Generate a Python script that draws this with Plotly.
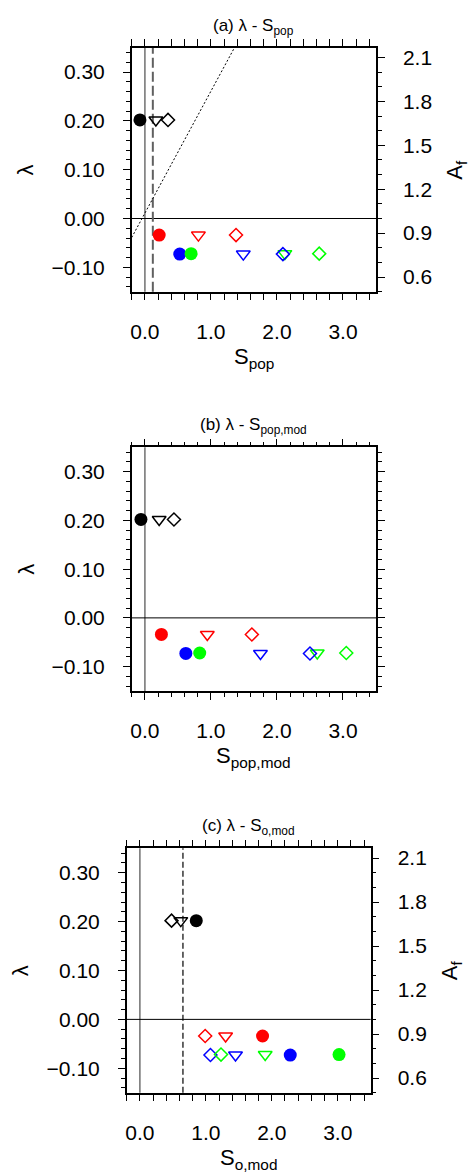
import plotly.graph_objects as go

# ---------------- data ----------------
COLORS = ["black", "#ff0000", "#0000ff", "#00ff00"]
LAMBDA = [0.202, -0.034, -0.073, -0.072]

# panel (a): S_pop
A_CIRCLE = [-0.075, 0.216, 0.528, 0.70]
A_TRIANGLE = [0.166, 0.81, 1.49, 2.12]
A_DIAMOND = [0.35, 1.38, 2.09, 2.64]

# panel (b): S_pop,mod
B_CIRCLE = [-0.06, 0.25, 0.62, 0.83]
B_TRIANGLE = [0.216, 0.945, 1.75, 2.61]
B_DIAMOND = [0.44, 1.62, 2.50, 3.05]

# panel (c): S_o,mod
C_CIRCLE = [0.855, 1.86, 2.28, 3.02]
C_TRIANGLE = [0.62, 1.30, 1.45, 1.90]
C_DIAMOND = [0.48, 0.99, 1.07, 1.23]

S_TICKS = [0.0, 1.0, 2.0, 3.0]
LAMBDA_TICKS = [-0.10, 0.00, 0.10, 0.20, 0.30]
AF_TICKS = [0.6, 0.9, 1.2, 1.5, 1.8, 2.1]
S_RANGE = [-0.2, 3.5]
LAMBDA_RANGE = [-0.15, 0.35]
AF_PER_LAMBDA = 0.3          # Af = 1 + lambda / 0.3
DASHED_A = 0.12              # vertical dashed line, panel (a)
DASHED_C = 0.653             # vertical dashed line, panel (c)
DOTTED_SLOPE = 0.25          # dotted line, panel (a): lambda = slope*S + intercept
DOTTED_INTERCEPT = 0.011

TITLES = ["(a) λ - S<sub>pop</sub>", "(b) λ - S<sub>pop,mod</sub>", "(c) λ - S<sub>o,mod</sub>"]
XTITLES = ["S<sub>pop</sub>", "S<sub>pop,mod</sub>", "S<sub>o,mod</sub>"]

# ---------------- layout geometry (pixels) ----------------
W, H = 471, 1176
PANELS = [  # (x0, x1, ytop, ybottom)
    (131.7, 376.0, 47.7, 291.7),
    (131.7, 376.0, 447.3, 691.0),
    (126.7, 370.7, 848.3, 1092.7),
]
FONT = "Liberation Sans, Arial, Helvetica, sans-serif"


def px_x(v):
    return v / W


def px_y(v):
    return 1 - v / H


AF_RANGE = [1 + LAMBDA_RANGE[0] / AF_PER_LAMBDA, 1 + LAMBDA_RANGE[1] / AF_PER_LAMBDA]

fig = go.Figure()

axis_ids = [("x", "y", "y2"), ("x2", "y3", None), ("x3", "y4", "y5")]
series = [
    (A_CIRCLE, A_TRIANGLE, A_DIAMOND),
    (B_CIRCLE, B_TRIANGLE, B_DIAMOND),
    (C_CIRCLE, C_TRIANGLE, C_DIAMOND),
]

for (xa, ya, yaf), (circ, tri, dia) in zip(axis_ids, series):
    fig.add_trace(go.Scatter(x=circ, y=LAMBDA, mode="markers", xaxis=xa, yaxis=ya,
                             marker=dict(symbol="circle", size=13, color=COLORS, line=dict(width=0)),
                             showlegend=False, hoverinfo="skip"))
    fig.add_trace(go.Scatter(x=tri, y=LAMBDA, mode="markers", xaxis=xa, yaxis=ya,
                             marker=dict(symbol="triangle-down-open", size=12, color=COLORS,
                                         line=dict(width=1.5)),
                             showlegend=False, hoverinfo="skip"))
    fig.add_trace(go.Scatter(x=dia, y=LAMBDA, mode="markers", xaxis=xa, yaxis=ya,
                             marker=dict(symbol="diamond-open", size=10, color=COLORS,
                                         line=dict(width=1.5)),
                             showlegend=False, hoverinfo="skip"))
    if yaf:
        fig.add_trace(go.Scatter(x=[None], y=[None], xaxis=xa, yaxis=yaf, mode="markers",
                                 showlegend=False, hoverinfo="skip"))

# dotted line in panel (a)
dot_x = [S_RANGE[0], (LAMBDA_RANGE[1] - DOTTED_INTERCEPT) / DOTTED_SLOPE]
dot_y = [DOTTED_SLOPE * v + DOTTED_INTERCEPT for v in dot_x]
fig.add_trace(go.Scatter(x=dot_x, y=dot_y, mode="lines", xaxis="x", yaxis="y",
                         line=dict(color="black", width=1, dash="2px,2px"),
                         showlegend=False, hoverinfo="skip"))

tickfont = dict(family=FONT, size=21, color="black")


def x_axis(i, anchor):
    x0, x1, yt, yb = PANELS[i]
    return dict(domain=[px_x(x0), px_x(x1)], anchor=anchor, range=S_RANGE,
                tickvals=S_TICKS, tickformat=".1f", ticks="outside", ticklen=7,
                tickwidth=1, tickcolor="black", showline=True, linecolor="black",
                linewidth=1.5, mirror="allticks", showgrid=False, zeroline=False,
                minor=dict(dtick=0.2, tick0=0, ticks="outside", ticklen=4, tickwidth=1,
                           tickcolor="black", showgrid=False),
                tickfont=tickfont, ticklabelstandoff=13, automargin=False, fixedrange=True)


def y_axis(i, anchor, mirror):
    x0, x1, yt, yb = PANELS[i]
    return dict(domain=[px_y(yb), px_y(yt)], anchor=anchor, range=LAMBDA_RANGE,
                tickvals=LAMBDA_TICKS, tickformat=".2f", ticks="outside", ticklen=7,
                tickwidth=1, tickcolor="black", showline=True, linecolor="black",
                linewidth=1.5, mirror=mirror, showgrid=False, zeroline=False,
                minor=dict(dtick=0.02, tick0=0, ticks="outside", ticklen=4, tickwidth=1,
                           tickcolor="black", showgrid=False),
                tickfont=tickfont, ticklabelstandoff=14, automargin=False, fixedrange=True)


def af_axis(overlay, anchor):
    return dict(overlaying=overlay, anchor=anchor, side="right", range=AF_RANGE,
                tickvals=AF_TICKS, tickformat=".1f", ticks="outside", ticklen=7,
                tickwidth=1, tickcolor="black", showline=True, linecolor="black",
                linewidth=1.5, showgrid=False, zeroline=False,
                minor=dict(dtick=0.1, tick0=0, ticks="outside", ticklen=4, tickwidth=1,
                           tickcolor="black", showgrid=False),
                tickfont=tickfont, ticklabelstandoff=14, automargin=False, fixedrange=True)


fig.update_layout(
    xaxis=x_axis(0, "y"), yaxis=y_axis(0, "x", False), yaxis2=af_axis("y", "x"),
    xaxis2=x_axis(1, "y3"), yaxis3=y_axis(1, "x2", "allticks"),
    xaxis3=x_axis(2, "y4"), yaxis4=y_axis(2, "x3", False), yaxis5=af_axis("y4", "x3"),
)

shapes = []
for xa, ya, _ in axis_ids:
    # vertical solid grey line at S = 0
    shapes.append(dict(type="line", xref=xa, yref=f"{ya} domain", x0=0, x1=0, y0=0, y1=1,
                       line=dict(color="#707070", width=1.5), layer="below"))
    # horizontal line at lambda = 0
    shapes.append(dict(type="line", xref=f"{xa} domain", yref=ya, x0=0, x1=1, y0=0, y1=0,
                       line=dict(color="black", width=1), layer="below"))
shapes.append(dict(type="line", xref="x", yref="y domain", x0=DASHED_A, x1=DASHED_A, y0=0, y1=1,
                   line=dict(color="#606060", width=2, dash="10px,4px"), layer="below"))
shapes.append(dict(type="line", xref="x3", yref="y4 domain", x0=DASHED_C, x1=DASHED_C, y0=0, y1=1,
                   line=dict(color="black", width=1.2, dash="6px,3px"), layer="below"))

annotations = []
for i, (x0, x1, yt, yb) in enumerate(PANELS):
    xc = (x0 + x1) / 2
    yc = (yt + yb) / 2
    annotations.append(dict(text=TITLES[i], x=px_x(xc), y=px_y(yt - 21), xref="paper", yref="paper",
                            showarrow=False, xanchor="center", yanchor="middle",
                            font=dict(family=FONT, size=17, color="black")))
    annotations.append(dict(text=XTITLES[i], x=px_x(xc), y=px_y(yb + 66), xref="paper", yref="paper",
                            showarrow=False, xanchor="center", yanchor="middle",
                            font=dict(family=FONT, size=22, color="black")))
    annotations.append(dict(text="λ", x=px_x(x0 - 106), y=px_y(yc), xref="paper", yref="paper",
                            showarrow=False, xanchor="center", yanchor="middle", textangle=-90,
                            font=dict(family=FONT, size=22, color="black")))
    if i != 1:
        annotations.append(dict(text="A<sub>f</sub>", x=px_x(x1 + 80), y=px_y(yc), xref="paper",
                                yref="paper", showarrow=False, xanchor="center", yanchor="middle",
                                textangle=-90, font=dict(family=FONT, size=22, color="black")))

fig.update_layout(
    width=W, height=H, margin=dict(l=0, r=0, t=0, b=0),
    paper_bgcolor="white", plot_bgcolor="white",
    font=dict(family=FONT, color="black"),
    shapes=shapes, annotations=annotations, showlegend=False,
)

fig.write_html("out.html", config={"displayModeBar": False})
